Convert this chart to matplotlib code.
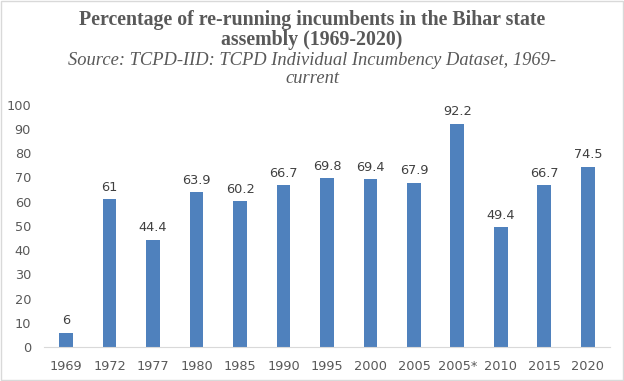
import matplotlib.pyplot as plt
from matplotlib.patches import Rectangle

years = ["1969", "1972", "1977", "1980", "1985", "1990", "1995", "2000",
         "2005", "2005*", "2010", "2015", "2020"]
pct = [6, 61, 44.4, 63.9, 60.2, 66.7, 69.8, 69.4, 67.9, 92.2, 49.4, 66.7, 74.5]
yticks = list(range(0, 101, 10))

title_lines = ["Percentage of re-running incumbents in the Bihar state",
               "assembly (1969-2020)"]
source_lines = ["Source: TCPD-IID: TCPD Individual Incumbency Dataset, 1969-",
                "current"]

W, H = 624, 381
fig = plt.figure(figsize=(W / 100, H / 100), dpi=100)
ax = fig.add_axes([0.071, 0.089, 0.906, 0.636])

x = range(len(years))
ax.bar(x, pct, width=0.32, color="#4F81BD", zorder=2)
for i, v in zip(x, pct):
    ax.text(i, v + 2.2, f"{v:g}", ha="center", va="bottom",
            fontsize=9.3, color="#404040", family="DejaVu Sans")

ax.set_xlim(-0.5, len(years) - 0.5)
ax.set_ylim(0, 100)
ax.set_yticks(yticks)
ax.set_xticks(list(x))
ax.set_xticklabels(years)
ax.tick_params(axis="both", length=0, labelsize=9.3, labelcolor="#595959")
ax.tick_params(axis="x", pad=9)
ax.tick_params(axis="y", pad=9.5)
for s in ["top", "right", "left"]:
    ax.spines[s].set_visible(False)
ax.spines["bottom"].set_color("#D9D9D9")

# title and source, baselines in pixels from the top
for line, base in zip(title_lines, [25, 45]):
    fig.text(0.5, 1 - base / H, line, ha="center", va="baseline",
             fontsize=14.3, fontweight="bold", color="#595959",
             family="Liberation Serif")
for line, base in zip(source_lines, [65, 83]):
    fig.text(0.5, 1 - base / H, line, ha="center", va="baseline",
             fontsize=13.3, style="italic", color="#595959",
             family="Liberation Serif")

fig.patches.append(Rectangle((0.002, 0.003), 0.996, 0.994, transform=fig.transFigure,
                             fill=False, edgecolor="#D9D9D9", linewidth=1))

fig.savefig("out.png", dpi=100)
